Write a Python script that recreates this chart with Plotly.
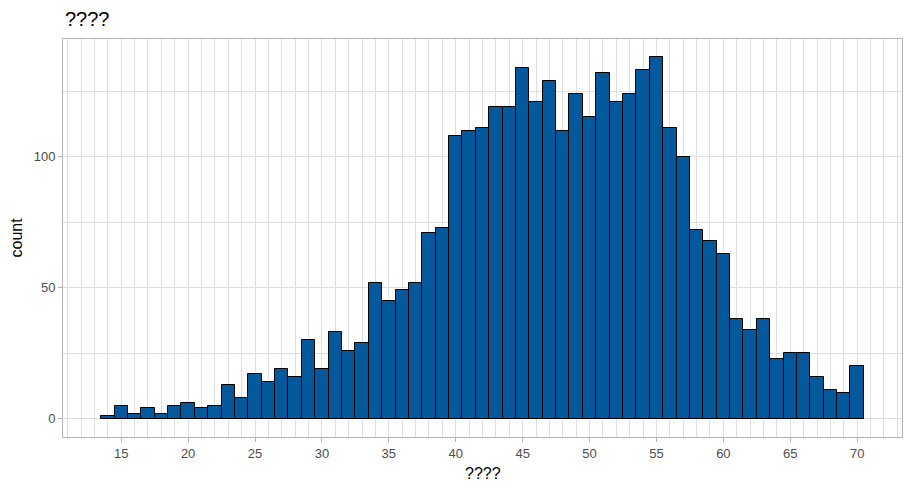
import plotly.graph_objects as go

bin_centers = list(range(14, 71))
counts = [1, 5, 2, 4, 2, 5, 6, 4, 5, 13,
          8, 17, 14, 19, 16, 30, 19, 33, 26, 29,
          52, 45, 49, 52, 71, 73, 108, 110, 111, 119,
          119, 134, 121, 129, 110, 124, 115, 132, 121, 124,
          133, 138, 111, 100, 72, 68, 63, 38, 34, 38,
          23, 25, 25, 16, 11, 10, 20]
x_ticks = [15, 20, 25, 30, 35, 40, 45, 50, 55, 60, 65, 70]
y_ticks = [0, 50, 100]
title_text = "????"
x_title = "????"
y_title = "count"

FONT = "Liberation Sans, Arial, sans-serif"
GRID = "#DEDEDE"
BORDER = "#B3B3B3"

fig = go.Figure()
fig.add_trace(go.Bar(
    x=bin_centers, y=counts, width=1,
    marker=dict(color="#04599C", line=dict(color="black", width=1)),
    showlegend=False,
))

fig.update_layout(
    width=912, height=492,
    margin=dict(l=63, r=10, t=39, b=55, autoexpand=False),
    plot_bgcolor="white", paper_bgcolor="white",
    bargap=0,
    font=dict(family=FONT, color="#4D4D4D", size=13),
    annotations=[
        dict(text=title_text, xref="paper", yref="paper", x=0, y=1,
             xanchor="left", yanchor="bottom", yshift=7, showarrow=False,
             font=dict(family=FONT, size=20, color="black")),
        dict(text=x_title, xref="paper", yref="paper", x=0.5, y=0,
             xanchor="center", yanchor="top", yshift=-26, showarrow=False,
             font=dict(family=FONT, size=16, color="black")),
        dict(text=y_title, xref="paper", yref="paper", x=0, y=0.5,
             xanchor="right", yanchor="middle", xshift=-37, textangle=-90, showarrow=False,
             font=dict(family=FONT, size=16, color="black")),
    ],
)
fig.update_xaxes(
    range=[10.65, 73.35], automargin=False,
    tickvals=x_ticks, ticktext=[str(v) for v in x_ticks],
    ticks="outside", ticklen=4, tickcolor=BORDER, tickwidth=1,
    showgrid=True, gridcolor=GRID, gridwidth=1,
    minor=dict(dtick=1, tick0=0, showgrid=True, gridcolor=GRID, gridwidth=0.6, ticks=""),
    showline=True, mirror=True, linecolor=BORDER, linewidth=1,
    zeroline=False,
    tickfont=dict(size=13, color="#4D4D4D"),
)
fig.update_yaxes(
    range=[-6.9, 144.9], automargin=False,
    tickvals=y_ticks, ticktext=[str(v) for v in y_ticks],
    ticks="outside", ticklen=4, tickcolor=BORDER, tickwidth=1,
    showgrid=True, gridcolor=GRID, gridwidth=1,
    minor=dict(dtick=25, tick0=0, showgrid=True, gridcolor=GRID, gridwidth=0.6, ticks=""),
    showline=True, mirror=True, linecolor=BORDER, linewidth=1,
    zeroline=False,
    tickfont=dict(size=13, color="#4D4D4D"),
)

fig.write_html("out.html", config={"displayModeBar": False},
               post_script="document.body.style.margin='0';")
